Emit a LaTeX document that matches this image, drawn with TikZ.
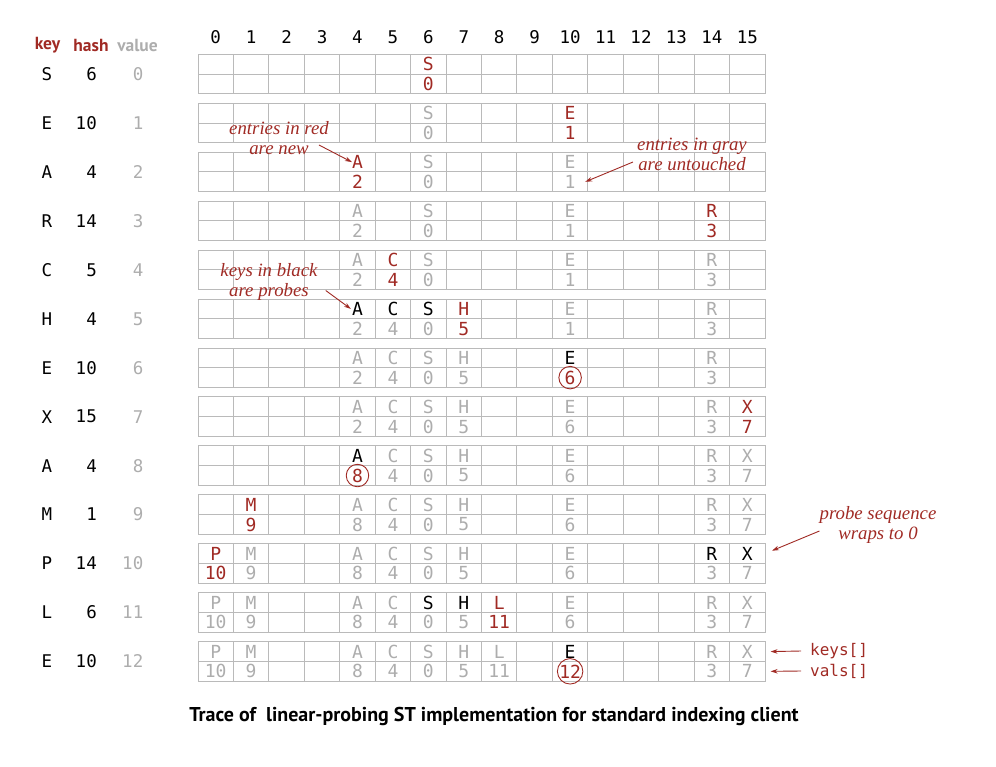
\documentclass[tikz,border=0pt]{standalone}
\usepackage{fontspec}
\setmainfont{Liberation Serif}
\setsansfont{PT Sans}
\setmonofont{DejaVu Sans Mono}
\usetikzlibrary{arrows.meta}

\definecolor{tracered}{RGB}{160,42,36}

\tikzstyle{cell} = [draw=black!27, line width=1pt, rectangle, inner sep=0pt, outer sep=0pt,
                    minimum width=35.44pt, minimum height=19.75pt]
\tikzstyle{ent} = [font=\ttfamily\fontsize{18}{18}\selectfont, inner sep=0pt]
\tikzstyle{lbl} = [font=\ttfamily\fontsize{17.5}{17.5}\selectfont, inner sep=0pt]
\tikzstyle{hdr} = [font=\sffamily\bfseries\fontsize{17.5}{17.5}\selectfont, inner sep=0pt]
\tikzstyle{note} = [font=\itshape\fontsize{18.8}{20}\selectfont, align=center, inner sep=0pt]
\tikzstyle{e-r} = [text=tracered]
\tikzstyle{e-g} = [text=black!32]
\tikzstyle{e-k} = [text=black]
\tikzstyle{e-c} = [text=tracered, draw=tracered, circle, minimum size=22.5pt, line width=0.9pt]

\begin{document}
\begin{tikzpicture}[x=1pt, y=-1pt]

\def\colR{tracered}
\def\colG{black!32}

\def\xo{198}
\def\yo{54.3}
\def\cw{35.44}
\def\rh{19.75}
\def\rs{48.95}

\useasboundingbox (0,0) rectangle (996,766);

% column indices
\foreach \c in {0,...,15}
  \node[lbl] (col-\c) at ({\xo+\cw*(\c+0.5)},37) {\c};

% header of the input columns
\node[hdr,\colR] (hkey) at (47.5,45) {key};
\node[hdr,\colR] (hhash) at (91,45) {hash};
\node[hdr,\colG] (hval) at (137.5,45) {value};

% input keys, hashes and values
\foreach \r/\k/\h in {0/S/6, 1/E/10, 2/A/4, 3/R/14, 4/C/5, 5/H/4, 6/E/10,
                      7/X/15, 8/A/4, 9/M/1, 10/P/14, 11/L/6, 12/E/10} {
  \node[lbl] (key-\r) at (47,{\yo+\rs*\r+\rh}) {\k};
  \node[lbl,anchor=east] (hash-\r) at (97,{\yo+\rs*\r+\rh}) {\h};
  \node[lbl,anchor=east,\colG] (val-\r) at (143.5,{\yo+\rs*\r+\rh}) {\r};
}

% empty tables
\foreach \r in {0,...,12}
  \foreach \c in {0,...,15} {
    \node[cell] (k-\r-\c) at ({\xo+\cw*(\c+0.5)},{\yo+\rs*\r+\rh/2}) {};
    \node[cell] (v-\r-\c) at ({\xo+\cw*(\c+0.5)},{\yo+\rs*\r+1.5*\rh}) {};
  }

% table contents after each put()
\foreach \r/\lst in {
  0/{6/S/0/r/r},
  1/{6/S/0/g/g, 10/E/1/r/r},
  2/{4/A/2/r/r, 6/S/0/g/g, 10/E/1/g/g},
  3/{4/A/2/g/g, 6/S/0/g/g, 10/E/1/g/g, 14/R/3/r/r},
  4/{4/A/2/g/g, 5/C/4/r/r, 6/S/0/g/g, 10/E/1/g/g, 14/R/3/g/g},
  5/{4/A/2/k/g, 5/C/4/k/g, 6/S/0/k/g, 7/H/5/r/r, 10/E/1/g/g, 14/R/3/g/g},
  6/{4/A/2/g/g, 5/C/4/g/g, 6/S/0/g/g, 7/H/5/g/g, 10/E/6/k/c, 14/R/3/g/g},
  7/{4/A/2/g/g, 5/C/4/g/g, 6/S/0/g/g, 7/H/5/g/g, 10/E/6/g/g, 14/R/3/g/g, 15/X/7/r/r},
  8/{4/A/8/k/c, 5/C/4/g/g, 6/S/0/g/g, 7/H/5/g/g, 10/E/6/g/g, 14/R/3/g/g, 15/X/7/g/g},
  9/{1/M/9/r/r, 4/A/8/g/g, 5/C/4/g/g, 6/S/0/g/g, 7/H/5/g/g, 10/E/6/g/g, 14/R/3/g/g, 15/X/7/g/g},
  10/{0/P/10/r/r, 1/M/9/g/g, 4/A/8/g/g, 5/C/4/g/g, 6/S/0/g/g, 7/H/5/g/g, 10/E/6/g/g, 14/R/3/k/g, 15/X/7/k/g},
  11/{0/P/10/g/g, 1/M/9/g/g, 4/A/8/g/g, 5/C/4/g/g, 6/S/0/k/g, 7/H/5/k/g, 8/L/11/r/r, 10/E/6/g/g, 14/R/3/g/g, 15/X/7/g/g},
  12/{0/P/10/g/g, 1/M/9/g/g, 4/A/8/g/g, 5/C/4/g/g, 6/S/0/g/g, 7/H/5/g/g, 8/L/11/g/g, 10/E/12/k/c, 14/R/3/g/g, 15/X/7/g/g}}
  \foreach \c/\k/\v/\a/\b in \lst {
    \node[ent,e-\a] (kt-\r-\c) at (k-\r-\c) {\k};
    \node[ent,e-\b] (vt-\r-\c) at (v-\r-\c) {\v};
  }

% notes
\node[note,\colR]
     (new) at (279,138) {entries in red\\are new};

\node[note,\colR]
     (gray) at (692,154) {entries in gray\\are untouched};

\node[note,\colR]
     (probe) at (269,281.5) {keys in black\\are probes};

\node[note,\colR]
     (wrap) at (878,525) {probe sequence\\wraps to 0};

\node[lbl,\colR,anchor=west,
      font=\ttfamily\fontsize{16}{16}\selectfont]
     (keys) at (810,651) {keys[]};

\node[lbl,\colR,anchor=west,
      font=\ttfamily\fontsize{16}{16}\selectfont]
     (vals) at (810,671) {vals[]};

\draw[-{Stealth[length=7pt,width=4.5pt]},\colR,line width=0.9pt]
     ([xshift=-10pt,yshift=-7pt]new.east) -- (kt-2-4.west);

\draw[-{Stealth[length=7pt,width=4.5pt]},\colR,line width=0.9pt]
     ([xshift=-4pt,yshift=-8pt]gray.west) -- ([xshift=9.5pt]vt-2-10.east);

\draw[-{Stealth[length=7pt,width=4.5pt]},\colR,line width=0.9pt]
     ([xshift=8pt,yshift=-9pt]probe.east) -- ([xshift=-1pt]kt-5-4.west);

\draw[-{Stealth[length=7pt,width=4.5pt]},\colR,line width=0.9pt]
     ([yshift=-6pt]wrap.west) -- ([xshift=7pt,yshift=3pt]k-10-15.east);

\draw[-{Stealth[length=7pt,width=4.5pt]},\colR,line width=0.9pt]
     ([xshift=-9pt]keys.west) -- ([xshift=5.5pt]k-12-15.east);

\draw[-{Stealth[length=7pt,width=4.5pt]},\colR,line width=0.9pt]
     ([xshift=-9pt]vals.west) -- ([xshift=5.5pt]v-12-15.east);

% caption
\node[hdr,font=\sffamily\bfseries\fontsize{20}{20}\selectfont]
     (caption) at (494,716)
     {Trace of\ \ linear-probing ST implementation for standard indexing client};

\end{tikzpicture}
\end{document}
